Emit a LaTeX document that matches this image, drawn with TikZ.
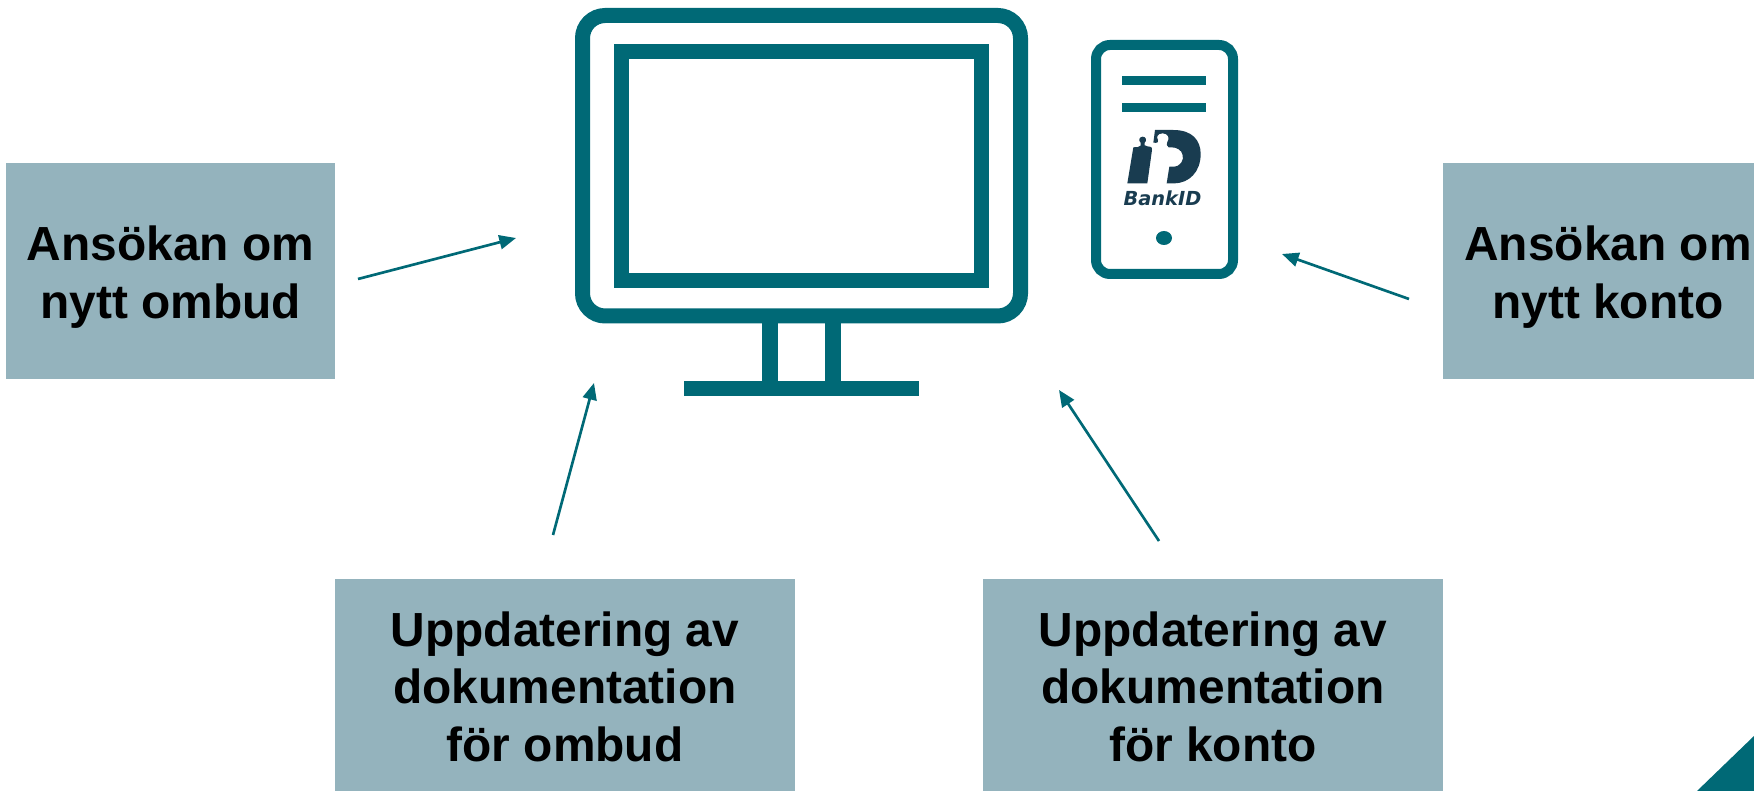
\documentclass[tikz,border=0pt]{standalone}
\usepackage{fontspec}
\setmainfont{Liberation Sans}
\newfontfamily\logofont{DejaVu Sans}
\usetikzlibrary{arrows.meta}
\definecolor{tealline}{RGB}{0,105,118}
\definecolor{boxfill}{RGB}{148,179,189}
\definecolor{logoblue}{RGB}{25,60,80}
\tikzset{
  labelbox/.style={fill=boxfill,text=black,align=center,inner sep=0pt,font=\fontsize{35.9}{43.3}\selectfont\bfseries},
  iconline/.style={draw=tealline,line width=11.25pt},
  iconbar/.style={fill=tealline},
  toarrow/.style={draw=tealline,line width=2pt,-{Triangle[length=12.5pt,width=10.5pt]}}
}
\begin{document}
\begin{tikzpicture}[x=0.75pt,y=0.75pt,yscale=-1,xscale=1]
            \useasboundingbox (0,0) rectangle (1754,791);

            %Monitor frame
            \draw [iconline,rounded corners=17pt]   (582.5,15.5) rectangle (1020.5,316) ;
            %Monitor screen
            \draw [iconline]   (621.5,51.5) rectangle (981.5,280.5) ;
            %Monitor stand
            \fill [iconbar]   (762,320) rectangle (778,385) ;
            \fill [iconbar]   (825,320) rectangle (841,385) ;
            \fill [iconbar]   (684,381) rectangle (919,396) ;

            %Phone body
            \draw [draw=tealline,line width=7.5pt,rounded corners=10.5pt]   (1096,45) rectangle (1233,274) ;
            \fill [iconbar]   (1122,76) rectangle (1206,85) ;
            \fill [iconbar]   (1122,103) rectangle (1206,112) ;
            \fill [iconbar]   (1164,238) ellipse [x radius=8,y radius=7] ;

            %Logo on the phone
            \begin{scope}[shift={(1070,20)},x=0.25pt,y=0.25pt]
            \fill [logoblue]   (172,490) -- (232,490) -- (246,390) .. controls (247,380) and (240,379) .. (232,379) .. controls (224,379) and (221,374) .. (224,368) .. controls (232,362) and (228,350) .. (218,350) .. controls (208,350) and (204,362) .. (212,368) .. controls (215,374) and (212,381) .. (204,381) -- (190,382) -- cycle ;
            \fill [logoblue]   (255,330) -- (310,330) .. controls (368,330) and (392,362) .. (392,402) .. controls (392,455) and (358,490) .. (312,490) -- (290,490) -- (298,440) -- (310,440) .. controls (332,440) and (342,420) .. (338,405) .. controls (335,390) and (320,382) .. (305,382) -- (296,382) .. controls (290,378) and (288,372) .. (292,366) .. controls (300,355) and (295,340) .. (278,340) .. controls (262,340) and (258,352) .. (264,360) .. controls (268,366) and (262,370) .. (250,368) -- cycle ;
            \end{scope}
            % Text Node
            \node (bankid) at (1162.5,198) [inner sep=0pt,text=logoblue,font=\logofont\fontsize{14.5}{15}\selectfont\bfseries\itshape] {BankID};

            %Corner mark
            \fill [iconbar]   (1697,791) -- (1754,736) -- (1754,791) -- cycle ;

            % Text Node
            \node (nyttombud) at (170.5,271) [labelbox,minimum width=247pt,minimum height=162pt,text height=78pt] {Ansökan om\\nytt ombud};
            % Text Node
            \node (nyttkonto) at (1608,271) [labelbox,minimum width=247pt,minimum height=162pt,text height=78pt] {Ansökan om\\nytt konto};
            % Text Node
            \node (dokombud) at (565,686.5) [labelbox,minimum width=345pt,minimum height=162pt,text height=113pt] {Uppdatering av\\dokumentation\\för ombud};
            % Text Node
            \node (dokkonto) at (1213,686.5) [labelbox,minimum width=345pt,minimum height=162pt,text height=113pt] {Uppdatering av\\dokumentation\\för konto};

            %Arrow ends
            \coordinate (ombudstart) at (358,279);
            \coordinate (ombudend) at (516,238);
            \coordinate (kontostart) at (1409,299);
            \coordinate (kontoend) at (1282,254);
            \coordinate (dokombudstart) at (553,535);
            \coordinate (dokombudend) at (594,383);
            \coordinate (dokkontostart) at (1159,541);
            \coordinate (dokkontoend) at (1059,390);

            %Straight Lines
            \draw [toarrow]   (ombudstart) -- (ombudend) ;
            \draw [toarrow]   (kontostart) -- (kontoend) ;
            \draw [toarrow]   (dokombudstart) -- (dokombudend) ;
            \draw [toarrow]   (dokkontostart) -- (dokkontoend) ;
            \end{tikzpicture}
\end{document}
